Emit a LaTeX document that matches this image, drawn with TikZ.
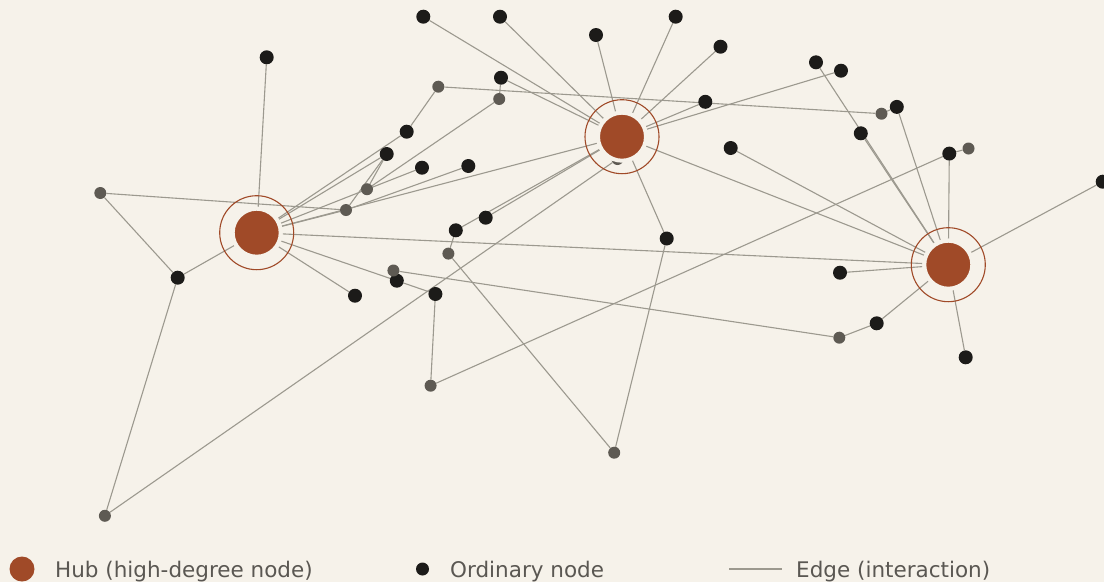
\documentclass[tikz,border=0pt]{standalone}
\usepackage{fontspec}
\setmainfont{DejaVu Sans}
\usetikzlibrary{backgrounds}
\definecolor{bgc}{HTML}{F6F2EA}
\definecolor{hubc}{HTML}{A04A28}
\definecolor{nodec}{HTML}{1C1B19}
\definecolor{grayc}{HTML}{5E5A53}
\definecolor{edgec}{HTML}{9C998F}
\definecolor{textc}{HTML}{5A5752}
\tikzset{
  hub/.style={circle, inner sep=0pt, minimum size=48pt, fill=hubc, draw=bgc, line width=4pt},
  hubring/.style={draw=hubc, line width=1.1pt},
  dot/.style={circle, inner sep=0pt, minimum size=14pt, fill=nodec},
  gdot/.style={circle, inner sep=0pt, minimum size=12pt, fill=grayc},
  link/.style={draw=edgec, line width=1.1pt},
  legendtext/.style={anchor=base west, inner sep=0pt, text=textc, font=\fontsize{21.5}{26}\selectfont},
}
\begin{document}
\begin{tikzpicture}[x=1pt, y=-1pt]
\useasboundingbox (0,0) rectangle (1104,582);

% ordinary nodes
\node[dot] (a1) at (266.7,57.3) {};
\node[dot] (a2) at (406.7,131.7) {};
\node[dot] (a3) at (386.7,154) {};
\node[dot] (a4) at (422,167.7) {};
\node[dot] (a5) at (468.3,166) {};
\node[dot] (a6) at (177.7,277.7) {};
\node[dot] (a7) at (355,295.7) {};
\node[dot] (a8) at (396.8,280.7) {};
\node[dot] (a9) at (435.4,294) {};
\node[dot] (a10) at (455.8,230.3) {};
\node[dot] (a11) at (485.7,217.7) {};
\node[dot] (a12) at (423.3,16.7) {};
\node[dot] (a13) at (500,16.7) {};
\node[dot] (a14) at (596,35) {};
\node[dot] (a15) at (675.7,16.7) {};
\node[dot] (a16) at (720.5,46.7) {};
\node[dot] (a17) at (501,77.7) {};
\node[dot] (a18) at (705.3,101.8) {};
\node[dot] (a19) at (730.7,148) {};
\node[dot] (a20) at (666.7,238.5) {};
\node[dot] (a21) at (816,62.3) {};
\node[dot] (a22) at (841,70.7) {};
\node[dot] (a23) at (896.8,106.9) {};
\node[dot] (a24) at (860.8,133.3) {};
\node[dot] (a25) at (949.3,153.6) {};
\node[dot] (a26) at (1102.7,181.7) {};
\node[dot] (a27) at (840,272.7) {};
\node[dot] (a28) at (876.7,323.3) {};
\node[dot] (a29) at (965.7,357.3) {};

% low-degree grey nodes
\node[gdot] (g1) at (438.3,86.7) {};
\node[gdot] (g2) at (499.2,99) {};
\node[gdot] (g3) at (367,189.2) {};
\node[gdot] (g4) at (346,210) {};
\node[gdot] (g5) at (100.3,193) {};
\node[gdot] (g6) at (393.4,270.5) {};
\node[gdot] (g7) at (448.4,253.6) {};
\node[gdot] (g8) at (430.6,385.7) {};
\node[gdot] (g9) at (614.2,452.7) {};
\node[gdot] (g10) at (104.9,515.8) {};
\node[gdot] (g11) at (617.5,159) {};
\node[gdot] (g12) at (881.5,113.7) {};
\node[gdot] (g13) at (968.5,148.5) {};
\node[gdot] (g14) at (839.3,337.7) {};

% hubs, each with a halo that keeps edges off the disc
\node[hub] (h1) at (256.7,232.7) {};
\node[hub] (h2) at (622,136.7) {};
\node[hub] (h3) at (948.3,264.7) {};
\foreach \h in {h1,h2,h3} \draw[hubring] (\h.center) circle[radius=37];

\begin{pgfonlayer}{background}
  \fill[bgc] (0,0) rectangle (1104,582);
  % edges of the first hub
  \foreach \n in {a1,a2,a3,a4,g4,a6,a7,a8,h2,h3} \draw[link] (h1) -- (\n);
  % edges of the second hub
  \foreach \n in {a12,a13,a14,a15,a16,a17,a18,a22,a20,a10,a11,g11,h3} \draw[link] (h2) -- (\n);
  % edges of the third hub
  \foreach \n in {a19,a21,a24,a23,a25,a26,a27,a28,a29} \draw[link] (h3) -- (\n);
  % remaining edges
  \draw[link] (a8) -- (a9);
  \draw[link] (g5) -- (g4);
  \draw[link] (g5) -- (a6);
  \draw[link] (a6) -- (g10);
  \draw[link] (g10) -- (g11);
  \draw[link] (g4) -- (a3);
  \draw[link] (g3) -- (a3);
  \draw[link] (g3) -- (g2);
  \draw[link] (g4) -- (a5);
  \draw[link] (g1) -- (a2);
  \draw[link] (g1) -- (g12);
  \draw[link] (g2) -- (a17);
  \draw[link] (a10) -- (g7);
  \draw[link] (g7) -- (g9);
  \draw[link] (g9) -- (a20);
  \draw[link] (g6) -- (g14);
  \draw[link] (g14) -- (a28);
  \draw[link] (a9) -- (g8);
  \draw[link] (g8) -- (a25);
  \draw[link] (a25) -- (g13);
  \draw[link] (g12) -- (a23);
\end{pgfonlayer}

% legend
\node[circle, inner sep=0pt, minimum size=25pt, fill=hubc] (lhub) at (22,569) {};
\node[legendtext] (lhubt) at (55,577) {Hub (high-degree node)};
\node[dot, minimum size=13pt] (ldot) at (422.5,569) {};
\node[legendtext] (ldott) at (450,577) {Ordinary node};
\coordinate (le1) at (729,569);
\coordinate (le2) at (782,569);
\draw[link] (le1) -- (le2);
\node[legendtext] (ledget) at (796,577) {Edge (interaction)};
\end{tikzpicture}
\end{document}
